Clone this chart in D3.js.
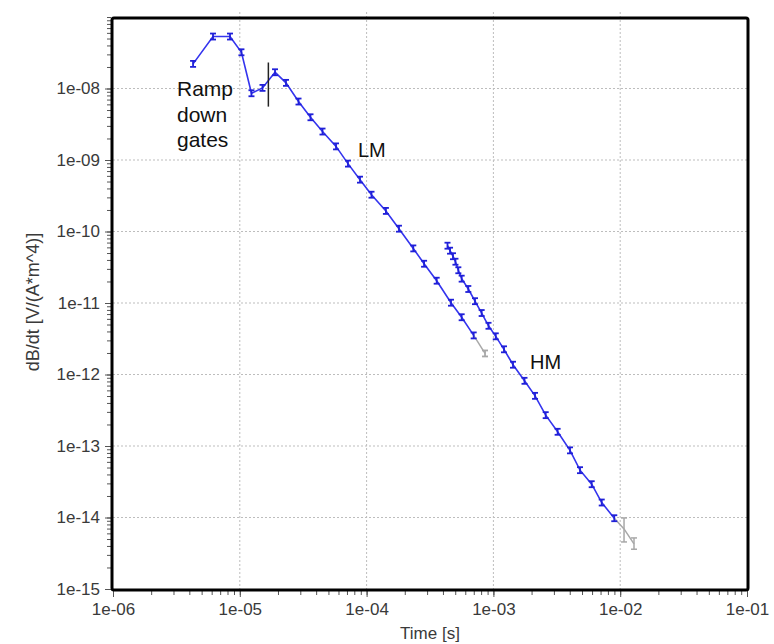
<!DOCTYPE html>
<html>
<head>
<meta charset="utf-8">
<script src="https://cdn.jsdelivr.net/npm/d3@7"></script>
<style>
  body { margin: 0; background: #fff; }
  text { font-family: "Liberation Sans", Arial, sans-serif; }
</style>
</head>
<body>
<div id="chart"></div>
<script>
//ramp down gates (blue, start of LM curve)
var rampTime = [4.28e-6, 6.15e-6, 8.37e-6, 1.03e-5, 1.236e-5, 1.51e-5];
var rampVal  = [2.21e-8, 5.33e-8, 5.33e-8, 3.21e-8, 8.58e-9, 1.02e-8];

//LM moment
var lmTime = [1.896e-5, 2.313e-5, 2.904e-5, 3.61e-5, 4.49e-5, 5.74e-5, 7.13e-5, 8.87e-5,
              1.093e-4, 1.42e-4, 1.80e-4, 2.335e-4, 2.84e-4, 3.57e-4, 4.63e-4, 5.62e-4, 6.99e-4];
var lmVal  = [1.687e-8, 1.199e-8, 6.57e-9, 3.96e-9, 2.50e-9, 1.55e-9, 8.9e-10, 5.31e-10,
              3.27e-10, 1.94e-10, 1.095e-10, 5.80e-11, 3.54e-11, 2.05e-11, 1.01e-11, 6.32e-12, 3.52e-12];
//LM discarded gates (grey)
var lmTailTime = [8.59e-4];
var lmTailVal  = [1.97e-12];

//HM moment
var hmTime = [4.345e-4, 4.55e-4, 4.80e-4, 5.02e-4, 5.29e-4, 5.62e-4, 6.34e-4, 7.16e-4, 8.08e-4,
              9.15e-4, 1.044e-3, 1.212e-3, 1.428e-3, 1.759e-3, 2.13e-3, 2.585e-3, 3.21e-3,
              4.02e-3, 4.82e-3, 5.96e-3, 7.15e-3, 8.98e-3];
var hmVal  = [6.33e-11, 5.39e-11, 4.51e-11, 3.78e-11, 2.87e-11, 2.19e-11, 1.57e-11, 1.06e-11, 7.24e-12,
              4.80e-12, 3.42e-12, 2.25e-12, 1.37e-12, 8.16e-13, 5.03e-13, 2.70e-13, 1.58e-13,
              8.69e-14, 4.59e-14, 2.92e-14, 1.62e-14, 9.77e-15];
//HM discarded gates (grey) with error bars
var hmTailTime = [1.072e-2, 1.285e-2];
var hmTailVal  = [6.92e-15, 4.27e-15];
var hmTailLo   = [4.55e-15, 3.6e-15];
var hmTailHi   = [9.86e-15, 5.18e-15];

//vertical mark at end of ramp
var gateMarkTime = 1.68e-5;
var gateMarkLo = 5.58e-9, gateMarkHi = 2.31e-8;

//axes
var xTicks = [1e-6, 1e-5, 1e-4, 1e-3, 1e-2, 1e-1];
var xTickLabels = ["1e-06", "1e-05", "1e-04", "1e-03", "1e-02", "1e-01"];
var yTicks = [1e-15, 1e-14, 1e-13, 1e-12, 1e-11, 1e-10, 1e-9, 1e-8];
var yTickLabels = ["1e-15", "1e-14", "1e-13", "1e-12", "1e-11", "1e-10", "1e-09", "1e-08"];

var width = 774, height = 644;
var svg = d3.select("#chart")
    .append("svg")
        .attr("width", width)
        .attr("height", height);

var x = d3.scaleLog()
    .domain([1e-6, 1e-1])
    .range([113, 747]);
var y = d3.scaleLog()
    .domain([1e-15, 1e-7])
    .range([589, 17]);

var blue = "#3434ee", grey = "#a8a8a8";

//grid
svg.append("g")
    .selectAll("line")
    .data(xTicks.slice(1, -1))
    .enter()
    .append("line")
        .attr("x1", x).attr("x2", x)
        .attr("y1", 12).attr("y2", 589)
        .attr("stroke", "#bdbdbd")
        .attr("stroke-dasharray", "2,2");
svg.append("g")
    .selectAll("line")
    .data(yTicks.slice(1))
    .enter()
    .append("line")
        .attr("y1", y).attr("y2", y)
        .attr("x1", 113).attr("x2", 747)
        .attr("stroke", "#bdbdbd")
        .attr("stroke-dasharray", "2,2");

//minor ticks
var xMinor = x.ticks(50), yMinor = y.ticks(80);
svg.append("g")
    .attr("transform", "translate(0,591)")
    .call(d3.axisBottom(x).tickValues(xMinor).tickFormat("").tickSize(4).tickSizeOuter(0))
    .call(function(g){ g.select(".domain").remove(); g.selectAll("line").attr("stroke", "#555"); });
svg.append("g")
    .attr("transform", "translate(111,0)")
    .call(d3.axisLeft(y).tickValues(yMinor).tickFormat("").tickSize(4).tickSizeOuter(0))
    .call(function(g){ g.select(".domain").remove(); g.selectAll("line").attr("stroke", "#555"); });

//x-axis
svg.append("g")
    .attr("transform", "translate(0,591)")
    .call(d3.axisBottom(x).tickValues(xTicks).tickFormat(function(d, i){ return xTickLabels[i]; }).tickSize(6).tickPadding(6))
    .call(function(g){
        g.select(".domain").remove();
        g.selectAll("line").attr("stroke", "#555");
        g.selectAll("text").attr("font-size", "17px").attr("fill", "#3a3a3a")
            .style("font-family", "'Liberation Sans', Arial, sans-serif");
    });

//y-axis
svg.append("g")
    .attr("transform", "translate(111,0)")
    .call(d3.axisLeft(y).tickValues(yTicks).tickFormat(function(d, i){ return yTickLabels[i]; }).tickSize(6).tickPadding(5))
    .call(function(g){
        g.select(".domain").remove();
        g.selectAll("line").attr("stroke", "#555");
        g.selectAll("text").attr("font-size", "17px").attr("fill", "#3a3a3a")
            .style("font-family", "'Liberation Sans', Arial, sans-serif");
    });

//axis titles
svg.append("text")
    .attr("x", 430)
    .attr("y", 639)
    .attr("text-anchor", "middle")
    .attr("font-size", "17px")
    .attr("fill", "#3a3a3a")
    .text("Time [s]");
svg.append("text")
    .attr("transform", "translate(39,302) rotate(-90)")
    .attr("text-anchor", "middle")
    .attr("font-size", "18px")
    .attr("fill", "#3a3a3a")
    .text("dB/dt [V/(A*m^4)]");

//frame
svg.append("rect")
    .attr("x", 112).attr("y", 18)
    .attr("width", 636).attr("height", 572)
    .attr("rx", 2)
    .attr("fill", "none")
    .attr("stroke", "#000")
    .attr("stroke-width", 3);

var line = d3.line()
    .x(function(d){ return x(d[0]); })
    .y(function(d){ return y(d[1]); });

var zip = function(t, v){ return t.map(function(d, i){ return [d, v[i]]; }); };
var lmPts = zip(rampTime, rampVal).concat(zip(lmTime, lmVal));
var hmPts = zip(hmTime, hmVal);

//grey tails
svg.append("path")
    .attr("d", line([lmPts[lmPts.length - 1]].concat(zip(lmTailTime, lmTailVal))))
    .attr("fill", "none").attr("stroke", grey).attr("stroke-width", 1.5);
svg.append("path")
    .attr("d", line([hmPts[hmPts.length - 1]].concat(zip(hmTailTime, hmTailVal))))
    .attr("fill", "none").attr("stroke", grey).attr("stroke-width", 1.5);

//grey error bars
var tail = hmTailTime.map(function(t, i){ return {t: t, lo: hmTailLo[i], hi: hmTailHi[i]}; });
var eb = svg.append("g").attr("stroke", grey).attr("stroke-width", 1.5)
    .selectAll("g").data(tail).enter().append("g");
eb.append("line")
    .attr("x1", function(d){ return x(d.t); }).attr("x2", function(d){ return x(d.t); })
    .attr("y1", function(d){ return y(d.hi); }).attr("y2", function(d){ return y(d.lo); });
eb.append("line")
    .attr("x1", function(d){ return x(d.t) - 3; }).attr("x2", function(d){ return x(d.t) + 3; })
    .attr("y1", function(d){ return y(d.hi); }).attr("y2", function(d){ return y(d.hi); });
eb.append("line")
    .attr("x1", function(d){ return x(d.t) - 3; }).attr("x2", function(d){ return x(d.t) + 3; })
    .attr("y1", function(d){ return y(d.lo); }).attr("y2", function(d){ return y(d.lo); });

//grey marker LM tail
drawMarks(zip(lmTailTime, lmTailVal), grey);

//blue curves
svg.append("path")
    .attr("d", line(lmPts))
    .attr("fill", "none").attr("stroke", blue).attr("stroke-width", 1.6);
svg.append("path")
    .attr("d", line(hmPts))
    .attr("fill", "none").attr("stroke", blue).attr("stroke-width", 1.6);

drawMarks(lmPts, "#2020d8");
drawMarks(hmPts, "#2020d8");

//small error bar markers
function drawMarks(pts, col){
    var g = svg.append("g").attr("stroke", col).attr("stroke-width", 1.8)
        .selectAll("g").data(pts).enter().append("g")
        .attr("transform", function(d){ return "translate(" + x(d[0]) + "," + y(d[1]) + ")"; });
    g.append("line").attr("x1", 0).attr("x2", 0).attr("y1", -3).attr("y2", 3);
    g.append("line").attr("x1", -3).attr("x2", 3).attr("y1", -3).attr("y2", -3);
    g.append("line").attr("x1", -3).attr("x2", 3).attr("y1", 3).attr("y2", 3);
}

//end of ramp mark
svg.append("line")
    .attr("x1", x(gateMarkTime)).attr("x2", x(gateMarkTime))
    .attr("y1", y(gateMarkHi)).attr("y2", y(gateMarkLo))
    .attr("stroke", "#222").attr("stroke-width", 1.5);

//labels
var ann = svg.append("g")
    .style("font-family", "'DejaVu Sans', Verdana, sans-serif")
    .attr("font-size", "21px")
    .attr("fill", "#111");
ann.append("text").attr("x", 177).attr("y", 96).text("Ramp");
ann.append("text").attr("x", 177).attr("y", 122).text("down");
ann.append("text").attr("x", 177).attr("y", 147).text("gates");
ann.append("text").attr("x", 358).attr("y", 157).attr("font-size", "20px").text("LM");
ann.append("text").attr("x", 530).attr("y", 369).attr("font-size", "20px").text("HM");
</script>
</body>
</html>
